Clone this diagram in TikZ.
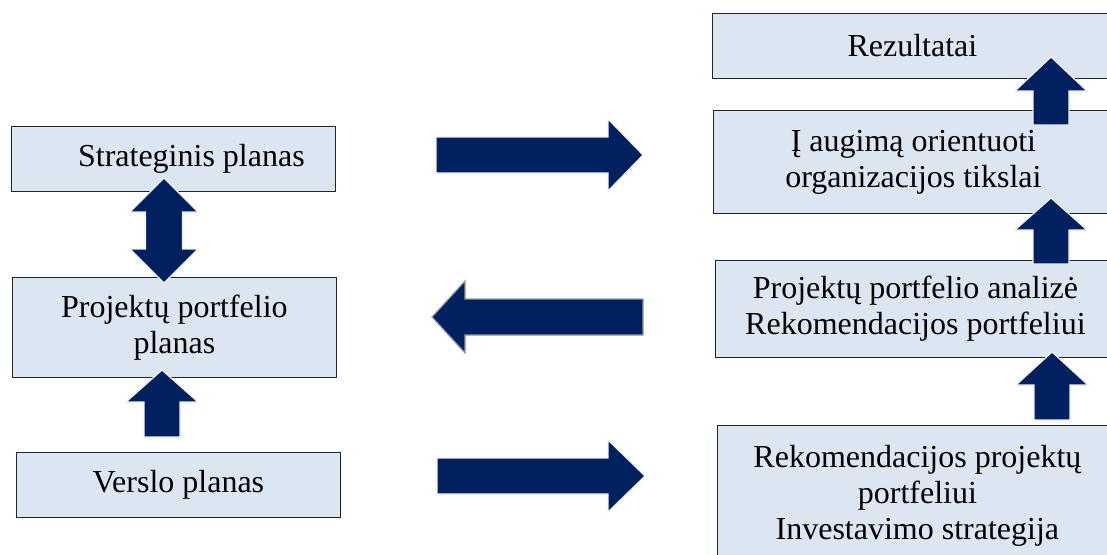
\documentclass[tikz,border=0pt]{standalone}
\usepackage{fontspec}
\setmainfont{Liberation Serif}
\usetikzlibrary{positioning}
\definecolor{boxblue}{RGB}{220,230,242}
\definecolor{arrownavy}{RGB}{0,32,96}
\tikzset{
  planbox/.style={draw=black!85, line width=0.8pt, fill=boxblue, anchor=north west,
    align=center, inner sep=0pt, font=\fontsize{32}{36}\selectfont},
  blockarrow/.style={fill=arrownavy, draw=black!6, line width=1.2pt},
  grayarrow/.style={fill=arrownavy, draw=black!40, line width=1.2pt}
}
% up arrow: style, centre x, tip y, head base y, tail y
\newcommand{\uparr}[5]{\filldraw[#1] (#2,#3) -- (#2+36,#4) -- (#2+18,#4) -- (#2+18,#5)
  -- (#2-18,#5) -- (#2-18,#4) -- (#2-36,#4) -- cycle;}
% horizontal arrow: style, centre y, tail x, head base x, tip x
\newcommand{\horarr}[5]{\filldraw[#1] (#3,#2-18) -- (#4,#2-18) -- (#4,#2-36) -- (#5,#2)
  -- (#4,#2+36) -- (#4,#2+18) -- (#3,#2+18) -- cycle;}

\begin{document}
\begin{tikzpicture}[x=1pt, y=-1pt]
    \clip (0,0) rectangle (1107,554);
    % left column
    \node[planbox, minimum width=324pt, minimum height=65pt] (strategic) at (11,126) {\hspace*{36pt}Strateginis planas};
    \node[planbox, minimum width=324pt, minimum height=100pt] (portfolio) at (12,277) {Projektų portfelio\\planas};
    \node[planbox, minimum width=324pt, minimum height=65pt] (business) at (16,452) {Verslo planas};
    % right column
    \node[planbox, minimum width=400pt, minimum height=65pt] (results) at (712,13) {Rezultatai};
    \node[planbox, minimum width=400pt, minimum height=103pt] (goals) at (713,110) {Į augimą orientuoti\\organizacijos tikslai};
    \node[planbox, minimum width=400pt, minimum height=97pt] (analysis) at (715,260) {Projektų portfelio analizė\\Rekomendacijos portfeliui};
    \node[planbox, minimum width=400pt, minimum height=140pt] (recommend) at (717,425) {Rekomendacijos projektų\\portfeliui\\Investavimo strategija};

    % block arrows
    \filldraw[blockarrow] (164,178) -- (198,212) -- (182.5,212) -- (182.5,249) -- (198,249)
      -- (164,283) -- (130,249) -- (145.5,249) -- (145.5,212) -- (130,212) -- cycle;
    \uparr{blockarrow}{162}{370}{402}{437}
    \horarr{blockarrow}{155}{436}{608}{643}
    \horarr{grayarrow}{317}{643}{465}{432}
    \horarr{blockarrow}{476}{437}{608}{645}
    \uparr{blockarrow}{1051}{57}{91}{125}
    \uparr{blockarrow}{1051}{198}{230}{264}
    \uparr{blockarrow}{1052}{352}{385}{420}
  \end{tikzpicture}
\end{document}
